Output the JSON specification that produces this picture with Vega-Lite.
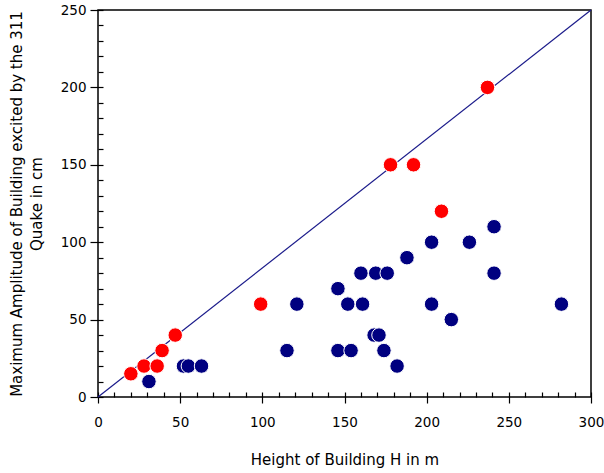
{
  "$schema": "https://vega.github.io/schema/vega-lite/v6.json",
  "autosize": "none",
  "width": 493,
  "height": 387,
  "padding": {"left": 98, "top": 10, "right": 13, "bottom": 76},
  "background": "white",
  "config": {
    "view": {"stroke": "black", "strokeWidth": 1.5},
    "font": "DejaVu Sans",
    "axis": {"grid": false, "domain": false, "tickColor": "black", "labelColor": "black", "titleColor": "black", "labelFontSize": 13.5, "titleFontWeight": "normal", "tickWidth": 1.2}
  },
  "datasets": {
    "pts": [
      {"h": 31, "a": 10, "g": "blue"},
      {"h": 52, "a": 20, "g": "blue"},
      {"h": 55, "a": 20, "g": "blue"},
      {"h": 63, "a": 20, "g": "blue"},
      {"h": 115, "a": 30, "g": "blue"},
      {"h": 121, "a": 60, "g": "blue"},
      {"h": 146, "a": 70, "g": "blue"},
      {"h": 146, "a": 30, "g": "blue"},
      {"h": 154, "a": 30, "g": "blue"},
      {"h": 152, "a": 60, "g": "blue"},
      {"h": 160, "a": 80, "g": "blue"},
      {"h": 161, "a": 60, "g": "blue"},
      {"h": 169, "a": 80, "g": "blue"},
      {"h": 176, "a": 80, "g": "blue"},
      {"h": 168, "a": 40, "g": "blue"},
      {"h": 171, "a": 40, "g": "blue"},
      {"h": 174, "a": 30, "g": "blue"},
      {"h": 182, "a": 20, "g": "blue"},
      {"h": 188, "a": 90, "g": "blue"},
      {"h": 203, "a": 100, "g": "blue"},
      {"h": 203, "a": 60, "g": "blue"},
      {"h": 215, "a": 50, "g": "blue"},
      {"h": 226, "a": 100, "g": "blue"},
      {"h": 241, "a": 110, "g": "blue"},
      {"h": 241, "a": 80, "g": "blue"},
      {"h": 282, "a": 60, "g": "blue"},
      {"h": 20, "a": 15, "g": "red"},
      {"h": 28, "a": 20, "g": "red"},
      {"h": 36, "a": 20, "g": "red"},
      {"h": 39, "a": 30, "g": "red"},
      {"h": 47, "a": 40, "g": "red"},
      {"h": 99, "a": 60, "g": "red"},
      {"h": 178, "a": 150, "g": "red"},
      {"h": 192, "a": 150, "g": "red"},
      {"h": 209, "a": 120, "g": "red"},
      {"h": 237, "a": 200, "g": "red"}
    ],
    "diag": [{"h": 0, "a": 0}, {"h": 300, "a": 250}]
  },
  "encoding": {
    "x": {"field": "h", "type": "quantitative", "scale": {"domain": [0, 300], "nice": false},
          "axis": {"values": [0,10,20,30,40,50,60,70,80,90,100,110,120,130,140,150,160,170,180,190,200,210,220,230,240,250,260,270,280,290,300],
                   "offset": -5,
                   "tickSize": {"condition": {"test": "datum.value % 50 === 0", "value": 11}, "value": 5},
                   "labelExpr": "datum.value % 50 === 0 ? datum.label : ''",
                   "labelPadding": 12, "labelFlush": false, "labelOverlap": false,
                   "title": "Height of Building H in m", "titleFontSize": 15, "titlePadding": 24}},
    "y": {"field": "a", "type": "quantitative", "scale": {"domain": [0, 250], "nice": false},
          "axis": {"values": [0,10,20,30,40,50,60,70,80,90,100,110,120,130,140,150,160,170,180,190,200,210,220,230,240,250],
                   "offset": -5,
                   "tickSize": {"condition": {"test": "datum.value % 50 === 0", "value": 13}, "value": 5},
                   "labelExpr": "datum.value % 50 === 0 ? datum.label : ''",
                   "labelPadding": 4, "labelFlush": false, "labelOverlap": false,
                   "title": ["Maximum Amplitude of Building excited by the 311", "Quake in cm"], "titleFontSize": 15, "titleLineHeight": 20, "titlePadding": 16}}
  },
  "layer": [
    {
      "data": {"name": "diag"},
      "mark": {"type": "line", "color": "#1a1a8a", "strokeWidth": 1.2}
    },
    {
      "data": {"name": "pts"},
      "mark": {"type": "circle", "size": 210, "opacity": 1, "stroke": "white", "strokeWidth": 1},
      "encoding": {
        "color": {"field": "g", "type": "nominal", "scale": {"domain": ["blue", "red"], "range": ["#000080", "#ff0000"]}, "legend": null}
      }
    }
  ]
}
